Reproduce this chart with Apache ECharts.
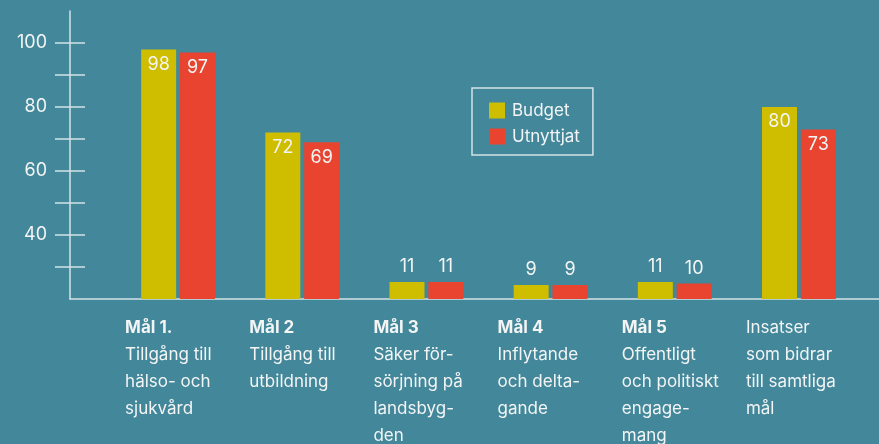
<!DOCTYPE html>
<html lang="sv">
<head>
<meta charset="UTF-8">
<title>Budget och utnyttjat</title>
<script src="https://cdn.jsdelivr.net/npm/echarts@6/dist/echarts.min.js"></script>
<style>
  html, body { margin: 0; padding: 0; background: #43879a; }
  #chart { width: 879px; height: 444px; }
</style>
</head>
<body>
<div id="chart"></div>
<script>
// data
var goals = ['Mål 1.', 'Mål 2', 'Mål 3', 'Mål 4', 'Mål 5', ''];
var descriptions = [
  ['Tillgång till', 'hälso- och', 'sjukvård'],
  ['Tillgång till', 'utbildning'],
  ['Säker för-', 'sörjning på', 'landsbyg-', 'den'],
  ['Inflytande', 'och delta-', 'gande'],
  ['Offentligt', 'och politiskt', 'engage-', 'mang'],
  ['Insatser', 'som bidrar', 'till samtliga', 'mål']
];
// the original drawing uses a compressed scale for the small amounts
var budgetLarge = [98, 72, '-', '-', '-', 80];
var usedLarge = [97, 69, '-', '-', '-', 73];
var budgetSmall = ['-', '-', 11, 9, 11, '-'];
var usedSmall = ['-', '-', 11, 9, 10, '-'];
var tickValues = [30, 40, 50, 60, 70, 80, 90, 100];
var labelValues = [40, 60, 80, 100];

var white = '#f3f5f5';
var lineColor = '#d3e3e7';
var font = 'Inter, "Noto Sans", sans-serif';

var categories = goals.map(function (g, i) { return 'k' + i; });

function categoryLabel(value, index) {
  var lines = [];
  if (goals[index]) lines.push('{b|' + goals[index] + '}');
  descriptions[index].forEach(function (d) { lines.push('{n|' + d + '}'); });
  return lines.join('\n');
}

var chart = echarts.init(document.getElementById('chart'));

var barLabelInside = {
  show: true, position: 'insideTop', distance: 6,
  color: white, fontSize: 18, fontFamily: font
};
var barLabelTop = {
  show: true, position: 'top', distance: 6,
  color: white, fontSize: 18, fontFamily: font
};

chart.setOption({
  backgroundColor: '#43879a',
  textStyle: { fontFamily: font },
  grid: [
    { left: 70, right: 0, top: 11, bottom: 145 },
    { left: 116, right: 18, top: 11, bottom: 145 }
  ],
  legend: {
    left: 472, top: 88,
    orient: 'vertical',
    data: ['Budget', 'Utnyttjat'],
    icon: 'rect',
    itemWidth: 16, itemHeight: 16, itemGap: 9,
    padding: [14, 13, 10, 17],
    borderColor: lineColor, borderWidth: 1.5,
    textStyle: { color: white, fontSize: 17, fontFamily: font, padding: [0, 0, 0, 2] },
    selectedMode: false
  },
  xAxis: [
    {
      gridIndex: 0, type: 'category', data: [''],
      axisLine: { onZero: false, lineStyle: { color: lineColor, width: 1.5 } },
      axisTick: { show: false }, axisLabel: { show: false }
    },
    {
      gridIndex: 1, type: 'category', data: categories,
      axisLine: { show: false }, axisTick: { show: false },
      axisLabel: {
        interval: 0, margin: 15, verticalAlign: 'top',
        formatter: categoryLabel,
        rich: {
          b: { fontWeight: 'bold', fontSize: 17, color: white, width: 106, align: 'left', lineHeight: 27, fontFamily: font },
          n: { fontSize: 17, color: white, width: 106, align: 'left', lineHeight: 27, fontFamily: font }
        }
      }
    },
    {
      gridIndex: 1, type: 'category', data: categories, show: false
    }
  ],
  yAxis: [
    {
      gridIndex: 0, type: 'value', min: 20, max: 110, interval: 10,
      axisLine: { show: true, lineStyle: { color: lineColor, width: 1.5 } },
      axisTick: { show: true, length: 15, customValues: tickValues, lineStyle: { color: lineColor, width: 1.5 } },
      axisLabel: { customValues: labelValues, margin: 23, color: white, fontSize: 18, fontFamily: font },
      splitLine: { show: false }
    },
    {
      gridIndex: 1, type: 'value', min: 20, max: 110, interval: 10, offset: 46,
      axisLine: { show: false },
      axisTick: { show: true, inside: true, length: 15, customValues: tickValues, lineStyle: { color: lineColor, width: 1.5 } },
      axisLabel: { show: false },
      splitLine: { show: false }
    },
    {
      gridIndex: 1, type: 'value', min: 0, max: 185, show: false,
      splitLine: { show: false }
    }
  ],
  series: [
    {
      name: 'Budget', type: 'bar', xAxisIndex: 1, yAxisIndex: 1,
      data: budgetLarge, barWidth: 35, barGap: '11%',
      itemStyle: { color: '#cfbd00' }, label: barLabelInside
    },
    {
      name: 'Utnyttjat', type: 'bar', xAxisIndex: 1, yAxisIndex: 1,
      data: usedLarge, barWidth: 35, barGap: '11%',
      itemStyle: { color: '#e84430' }, label: barLabelInside
    },
    {
      name: 'Budget', type: 'bar', xAxisIndex: 2, yAxisIndex: 2,
      data: budgetSmall, barWidth: 35, barGap: '11%',
      itemStyle: { color: '#cfbd00' }, label: barLabelTop
    },
    {
      name: 'Utnyttjat', type: 'bar', xAxisIndex: 2, yAxisIndex: 2,
      data: usedSmall, barWidth: 35, barGap: '11%',
      itemStyle: { color: '#e84430' }, label: barLabelTop
    }
  ]
});
</script>
</body>
</html>
